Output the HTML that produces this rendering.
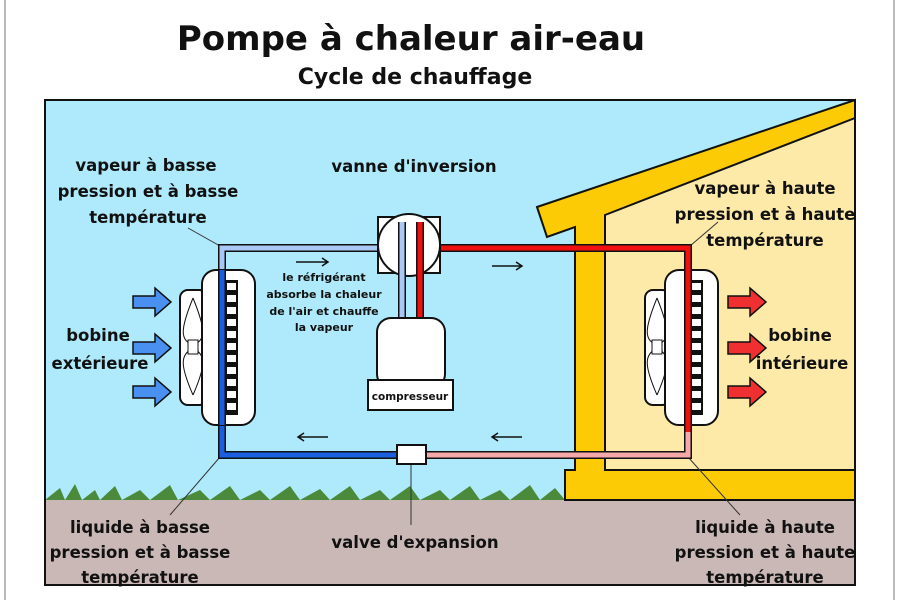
<!DOCTYPE html>
<html><head><meta charset="utf-8"><style>
body{margin:0;background:#fff;width:900px;height:600px;overflow:hidden}
text{font-family:"DejaVu Sans","Liberation Sans",sans-serif;font-weight:bold;fill:#111}
</style></head><body>
<svg width="900" height="600" viewBox="0 0 900 600">
<line x1="5" y1="0" x2="5" y2="600" stroke="#bbb" stroke-width="2"/>
<line x1="894" y1="0" x2="894" y2="600" stroke="#bbb" stroke-width="2"/>
<text x="411" y="50" font-size="34" text-anchor="middle">Pompe à chaleur air-eau</text>
<text x="415" y="84" font-size="22" text-anchor="middle">Cycle de chauffage</text>
<rect x="45" y="100" width="810" height="400" fill="#aeeafb"/>
<rect x="45" y="500" width="810" height="85" fill="#c9b8b5"/>
<path d="M45 500 L60 488 65 500 75 484 82 500 95 490 100 500 115 486 122 500 140 490 150 500 170 485 178 500 200 490 210 500 230 486 240 500 260 490 270 500 290 486 300 500 320 489 330 500 350 486 360 500 380 490 390 500 410 486 420 500 440 490 450 500 470 486 480 500 500 490 510 500 530 485 540 500 555 488 565 500Z" fill="#4a8a3a"/>
<polygon points="605,215 855,118 855,470 605,470" fill="#fdeaa8"/>
<path d="M537,207 L855,100 L855,118 L605,215 L605,470 L855,470 L855,500 L565,500 L565,470 L575,470 L575,227 L547,237 Z" fill="#fccb06" stroke="#111" stroke-width="2"/>
<rect x="45" y="100" width="810" height="485" fill="none" stroke="#111" stroke-width="2"/>
<g stroke="#333" stroke-width="1"><line x1="188" y1="228" x2="220" y2="246"/><line x1="220" y1="457" x2="170" y2="515"/><line x1="690" y1="246" x2="718" y2="222"/><line x1="688" y1="457" x2="740" y2="515"/><line x1="411" y1="464" x2="411" y2="525"/></g>
<g stroke="#111" stroke-width="8" fill="none">
<path d="M402 318 V248 H222 V455 H688 V248 H420 V318"/></g>
<g stroke-width="5" fill="none">
<path d="M402 318 V248 H222 V275" stroke="#a9c8f5"/>
<path d="M222 272 V455 H402" stroke="#1a5fe0"/>
<path d="M420 455 H688 V430" stroke="#f4a8a8"/>
<path d="M688 432 V248 H420 V318" stroke="#f01010"/></g>
<rect x="378" y="217" width="62" height="56" fill="#fff" stroke="#111" stroke-width="2"/>
<circle cx="409" cy="245" r="31" fill="#fff" stroke="#111" stroke-width="2"/>
<g stroke="#111" stroke-width="8" fill="none"><path d="M402 222 V318 M420 222 V318"/></g>
<path d="M402 222 V318" stroke="#a9c8f5" stroke-width="5"/><path d="M420 222 V318" stroke="#f01010" stroke-width="5"/>
<rect x="377" y="318" width="68" height="70" rx="14" fill="#fff" stroke="#111" stroke-width="2"/>
<rect x="368" y="380" width="85" height="30" fill="#fff" stroke="#111" stroke-width="2"/>
<text x="410" y="400" font-size="10.5" text-anchor="middle">compresseur</text>
<rect x="397" y="445" width="29" height="19" fill="#fff" stroke="#111" stroke-width="2"/>
<rect x="180" y="290" width="27" height="115" rx="8" fill="#fff" stroke="#111" stroke-width="2"/>
<path d="M193 298 C180 330 180 340 193 345 C206 340 206 330 193 298 M193 395 C180 365 180 355 193 348 C206 355 206 365 193 395" fill="none" stroke="#111"/>
<rect x="188" y="340" width="10" height="14" fill="#fff" stroke="#111"/>
<rect x="202" y="270" width="53" height="155" rx="14" fill="#fff" stroke="#111" stroke-width="2"/>
<rect x="225" y="280" width="13" height="135" fill="#111"/>
<g fill="#fff"><rect x="227" y="283" width="9" height="7"/><rect x="227" y="295" width="9" height="7"/><rect x="227" y="307" width="9" height="7"/><rect x="227" y="319" width="9" height="7"/><rect x="227" y="331" width="9" height="7"/><rect x="227" y="343" width="9" height="7"/><rect x="227" y="355" width="9" height="7"/><rect x="227" y="367" width="9" height="7"/><rect x="227" y="379" width="9" height="7"/><rect x="227" y="391" width="9" height="7"/><rect x="227" y="403" width="9" height="7"/></g>
<path d="M222 270 V425" stroke="#111" stroke-width="8"/><path d="M222 270 V425" stroke="#1a5fe0" stroke-width="5"/>
<rect x="645" y="290" width="25" height="115" rx="8" fill="#fff" stroke="#111" stroke-width="2"/>
<path d="M657 298 C644 330 644 340 657 345 C670 340 670 330 657 298 M657 395 C644 365 644 355 657 348 C670 355 670 365 657 395" fill="none" stroke="#111"/>
<rect x="652" y="340" width="10" height="14" fill="#fff" stroke="#111"/>
<rect x="665" y="270" width="53" height="155" rx="14" fill="#fff" stroke="#111" stroke-width="2"/>
<rect x="690" y="280" width="13" height="135" fill="#111"/>
<g fill="#fff"><rect x="692" y="283" width="9" height="7"/><rect x="692" y="295" width="9" height="7"/><rect x="692" y="307" width="9" height="7"/><rect x="692" y="319" width="9" height="7"/><rect x="692" y="331" width="9" height="7"/><rect x="692" y="343" width="9" height="7"/><rect x="692" y="355" width="9" height="7"/><rect x="692" y="367" width="9" height="7"/><rect x="692" y="379" width="9" height="7"/><rect x="692" y="391" width="9" height="7"/><rect x="692" y="403" width="9" height="7"/></g>
<path d="M688 265 V432" stroke="#111" stroke-width="8"/><path d="M688 265 V432" stroke="#f01010" stroke-width="5"/>
<g fill="#4a90f0" stroke="#111" stroke-width="1.5">
<path d="M133 296 H155 V288 L171 302 L155 316 V308 H133Z"/>
<path d="M133 342 H155 V334 L171 348 L155 362 V354 H133Z"/>
<path d="M133 386 H155 V378 L171 392 L155 406 V398 H133Z"/></g>
<g fill="#f03030" stroke="#111" stroke-width="1.5">
<path d="M728 296 H750 V288 L766 302 L750 316 V308 H728Z"/>
<path d="M728 342 H750 V334 L766 348 L750 362 V354 H728Z"/>
<path d="M728 386 H750 V378 L766 392 L750 406 V398 H728Z"/></g>
<g stroke="#111" stroke-width="1.5" fill="none">
<path d="M296 262 H328 M322 258 L328 262 322 266"/>
<path d="M492 266 H522 M516 262 L522 266 516 270"/>
<path d="M298 437 H328 M304 433 L298 437 304 441"/>
<path d="M492 437 H522 M498 433 L492 437 498 441"/></g>
<g font-size="16.5">
<text x="146" y="171" text-anchor="middle">vapeur à basse</text>
<text x="148" y="197" text-anchor="middle">pression et à basse</text>
<text x="148" y="223" text-anchor="middle">température</text>
<text x="414" y="172" text-anchor="middle">vanne d'inversion</text>
<text x="765" y="194" text-anchor="middle">vapeur à haute</text>
<text x="765" y="220" text-anchor="middle">pression et à haute</text>
<text x="765" y="246" text-anchor="middle">température</text>
<text x="98" y="341" text-anchor="middle">bobine</text>
<text x="100" y="369" text-anchor="middle">extérieure</text>
<text x="800" y="341" text-anchor="middle">bobine</text>
<text x="802" y="369" text-anchor="middle">intérieure</text>
<text x="140" y="533" text-anchor="middle">liquide à basse</text>
<text x="140" y="558" text-anchor="middle">pression et à basse</text>
<text x="140" y="583" text-anchor="middle">température</text>
<text x="415" y="548" text-anchor="middle">valve d'expansion</text>
<text x="765" y="533" text-anchor="middle">liquide à haute</text>
<text x="765" y="558" text-anchor="middle">pression et à haute</text>
<text x="765" y="583" text-anchor="middle">température</text>
</g>
<g font-size="11" text-anchor="middle">
<text x="324" y="281">le réfrigérant</text>
<text x="324" y="298">absorbe la chaleur</text>
<text x="324" y="315">de l'air et chauffe</text>
<text x="324" y="331">la vapeur</text></g>
</svg>
</body></html>
